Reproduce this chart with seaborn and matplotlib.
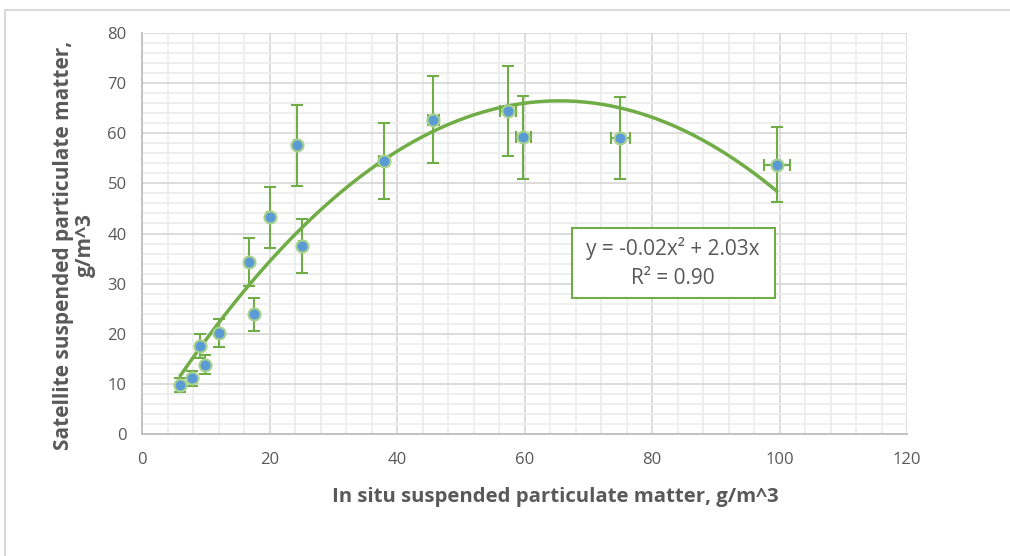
import numpy as np
import pandas as pd
import seaborn as sns
import matplotlib.pyplot as plt
from matplotlib.patches import Rectangle
from matplotlib.ticker import MultipleLocator

# in situ vs satellite SPM
in_situ = [6.0, 7.8, 9.1, 9.9, 12.0, 16.8, 17.6, 20.0, 24.3, 25.1, 37.9, 45.7, 57.4, 59.8, 75.0, 99.6]
satellite = [9.7, 11.1, 17.6, 13.8, 20.2, 34.3, 23.9, 43.2, 57.6, 37.5, 54.5, 62.7, 64.4, 59.2, 59.0, 53.7]
y_err = [1.4, 1.5, 2.4, 1.9, 2.8, 4.8, 3.3, 6.0, 8.1, 5.3, 7.6, 8.7, 9.0, 8.3, 8.2, 7.5]
x_err = [0.1, 0.2, 0.2, 0.2, 0.2, 0.3, 0.4, 0.4, 0.5, 0.5, 0.8, 0.9, 1.2, 1.2, 1.5, 2.0]

# polynomial trendline (through origin) as shown on the chart
coef_a = -0.0155
coef_b = 2.03
eq_text = "y = -0.02x² + 2.03x"
r2_text = "R² = 0.90"

xlabel = "In situ suspended particulate matter, g/m^3"
ylabel = "Satellite suspended particulate matter,\ng/m^3"

df = pd.DataFrame({"x": in_situ, "y": satellite})
xs = np.linspace(min(in_situ), max(in_situ), 200)
trend = pd.DataFrame({"x": xs, "y": coef_a * xs**2 + coef_b * xs})

sns.set_style("white")
plt.rcParams["font.family"] = ["Open Sans", "DejaVu Sans"]

green = "#70ad47"
grey_txt = "#595959"

fig = plt.figure(figsize=(10.1, 5.56), dpi=100)
ax = fig.add_axes([142 / 1010, 1 - 434 / 556, 765 / 1010, 401 / 556])

ax.errorbar(in_situ, satellite, yerr=y_err, xerr=x_err, fmt="none",
            ecolor=green, elinewidth=1.5, capsize=4, capthick=1.5, zorder=3)
sns.lineplot(data=trend, x="x", y="y", color=green, linewidth=2.5, ax=ax, zorder=4)
sns.scatterplot(data=df, x="x", y="y", color="#5b9bd5", edgecolor="#a9d18e",
                linewidth=1.5, s=75, ax=ax, zorder=5)

ax.set_xlim(0, 120)
ax.set_ylim(0, 80)
ax.xaxis.set_major_locator(MultipleLocator(20))
ax.xaxis.set_minor_locator(MultipleLocator(4))
ax.yaxis.set_major_locator(MultipleLocator(10))
ax.yaxis.set_minor_locator(MultipleLocator(2))
ax.grid(which="major", color="#d9d9d9", linewidth=1.3)
ax.grid(which="minor", color="#eeeeee", linewidth=1.4)
ax.set_axisbelow(True)

for s in ["top", "right"]:
    ax.spines[s].set_visible(False)
for s in ["left", "bottom"]:
    ax.spines[s].set_color("#bfbfbf")
    ax.spines[s].set_linewidth(1.3)

ax.tick_params(axis="both", which="major", direction="out", length=5, width=1.3,
               color="#bfbfbf", labelcolor=grey_txt, labelsize=12, pad=6)
ax.tick_params(axis="both", which="minor", length=0)
ax.tick_params(axis="x", pad=8)

ax.set_xlabel(xlabel, fontsize=14.7, fontweight="bold", color=grey_txt)
ax.set_ylabel(ylabel, fontsize=15, fontweight="bold", color=grey_txt, linespacing=1.05)
# label positions as placed in the original (pixels -> axes fraction)
ax.xaxis.set_label_coords((555 - 142) / 765, -(487 - 434) / 401)
ax.yaxis.set_label_coords(-(142 - 96) / 765, (434 - 245) / 401)

# equation box
fig.patches.append(Rectangle((572 / 1010, 1 - 298 / 556), 203 / 1010, 70 / 556,
                             transform=fig.transFigure, facecolor="white",
                             edgecolor=green, linewidth=1.5, zorder=10))
fig.text(673 / 1010, 1 - 248 / 556, eq_text, ha="center", va="center",
         fontsize=15, color=grey_txt, zorder=11)
fig.text(673 / 1010, 1 - 279 / 556, r2_text, ha="center", va="center",
         fontsize=15, color=grey_txt, zorder=11)

# outer chart frame
fig.patches.append(Rectangle((5 / 1010, -0.05), 1.1, 1 - 10 / 556 + 0.05,
                             transform=fig.transFigure, facecolor="none",
                             edgecolor="#d9d9d9", linewidth=1.5))

fig.savefig("out.png", dpi=100)
